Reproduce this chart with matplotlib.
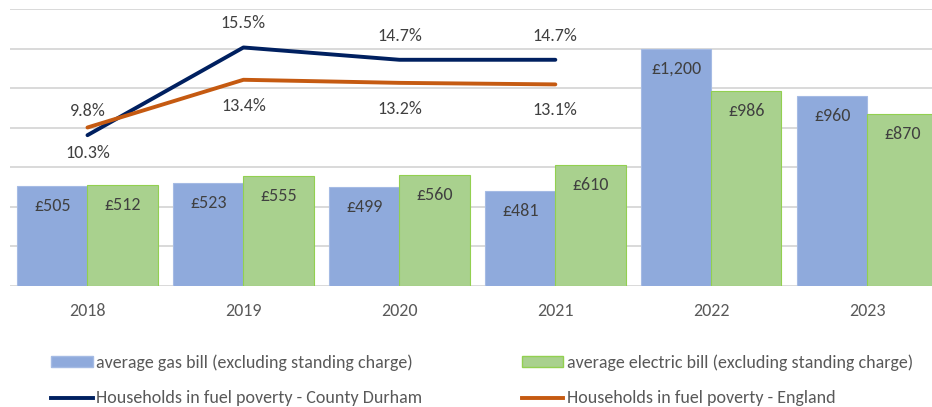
import matplotlib
matplotlib.use("Agg")
import matplotlib.pyplot as plt
import numpy as np
from matplotlib.patches import Patch
from matplotlib.lines import Line2D

plt.rcParams['font.family'] = ['Carlito', 'Lato', 'DejaVu Sans']

years = ['2018', '2019', '2020', '2021', '2022', '2023']
gas_bill = [505, 523, 499, 481, 1200, 960]
electric_bill = [512, 555, 560, 610, 986, 870]
gas_labels = ['£505', '£523', '£499', '£481', '£1,200', '£960']
elec_labels = ['£512', '£555', '£560', '£610', '£986', '£870']
poverty_durham = [9.8, 15.5, 14.7, 14.7]
poverty_england = [10.3, 13.4, 13.2, 13.1]

GAS = '#8faadc'
ELEC = '#a9d18e'
ELEC_EDGE = '#92d050'
NAVY = '#002060'
ORANGE = '#c55a11'
GRID = '#d9d9d9'
LABEL = '#404040'
TICK = '#595959'
FS = 13

fig = plt.figure(figsize=(9.32, 4.07), dpi=100)
ax = fig.add_axes([0.0102, 0.2973, 1.004, 0.6806])

x = np.arange(len(years))
w = 0.45
ax.bar(x - w/2, gas_bill, w, color=GAS, edgecolor='#a5bbe4', linewidth=0.8, zorder=2)
ax.bar(x + w/2, electric_bill, w, color=ELEC, edgecolor=ELEC_EDGE, linewidth=0.8, zorder=2)

ax.set_ylim(0, 1400)
ax.set_xlim(-0.5, len(years) - 0.5)
ax.set_yticks(np.arange(0, 1401, 200))
ax.yaxis.grid(True, color=GRID, linewidth=1.4, zorder=0)
ax.set_axisbelow(True)
for s in ax.spines.values():
    s.set_visible(False)
ax.set_xticks(x)
ax.set_xticklabels(years)

for xi, v, lab in zip(x, gas_bill, gas_labels):
    ax.annotate(lab, (xi - w/2, v), xytext=(0, -20), textcoords='offset pixels',
                ha='center', va='center', fontsize=FS, color=LABEL, zorder=5)
for xi, v, lab in zip(x, electric_bill, elec_labels):
    ax.annotate(lab, (xi + w/2, v), xytext=(0, -20), textcoords='offset pixels',
                ha='center', va='center', fontsize=FS, color=LABEL, zorder=5)

ax2 = ax.twinx()
ax2.set_ylim(0, 18)
ax2.axis('off')
ax.tick_params(axis='y', left=False, right=False, labelleft=False, labelright=False)
ax.tick_params(axis='x', bottom=False, labelsize=FS, labelcolor=TICK, pad=9)

xl = np.arange(len(poverty_durham))
ax2.plot(xl, poverty_durham, color=NAVY, linewidth=2.8, solid_capstyle='round', zorder=4)
ax2.plot(xl, poverty_england, color=ORANGE, linewidth=2.8, solid_capstyle='round', zorder=4)
for xi, v in zip(xl, poverty_durham):
    ax2.annotate(f'{v}%', (xi, v), xytext=(0, 24), textcoords='offset pixels',
                 ha='center', va='center', fontsize=FS, color=LABEL)
for xi, v in zip(xl, poverty_england):
    ax2.annotate(f'{v}%', (xi, v), xytext=(0, -26), textcoords='offset pixels',
                 ha='center', va='center', fontsize=FS, color=LABEL)

handles = [
    Patch(facecolor=GAS, edgecolor='#a5bbe4'),
    Line2D([0], [0], color=NAVY, linewidth=2.8),
    Patch(facecolor=ELEC, edgecolor=ELEC_EDGE),
    Line2D([0], [0], color=ORANGE, linewidth=2.8),
]
labels = [
    'average gas bill (excluding standing charge)',
    'Households in fuel poverty - County Durham',
    'average electric bill (excluding standing charge)',
    'Households in fuel poverty - England',
]
leg = fig.legend(handles, labels, ncol=2, loc='upper left',
                 bbox_to_anchor=(51/932, 1 - 354/407), frameon=False,
                 fontsize=FS, labelcolor=TICK, handlelength=2.3, handleheight=0.55,
                 handletextpad=0.2, columnspacing=5.5, labelspacing=1.1,
                 borderaxespad=0, borderpad=0)

fig.savefig('out.png', dpi=100)
